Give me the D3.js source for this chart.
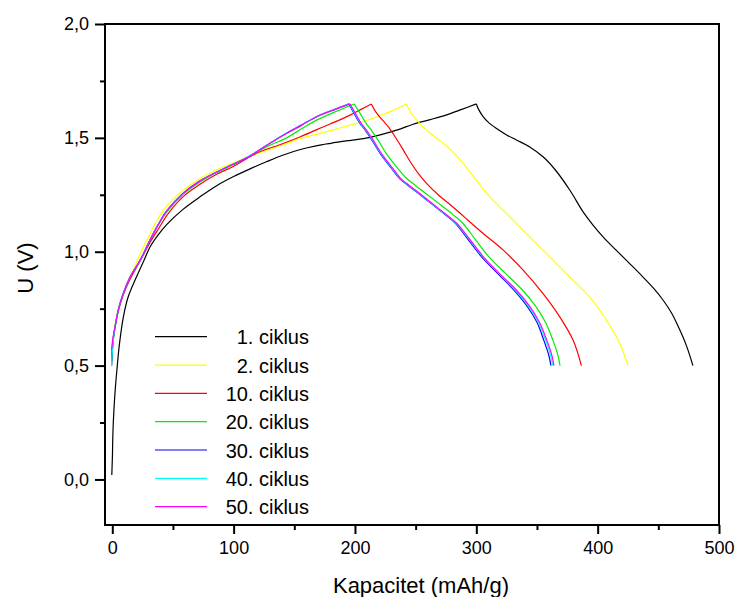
<!DOCTYPE html>
<html>
<head>
<meta charset="utf-8">
<script src="https://cdn.jsdelivr.net/npm/d3@7"></script>
<style>
  html, body { margin: 0; padding: 0; background: #fff; }
  svg { display: block; font-family: "Liberation Sans", Arial, sans-serif; }
</style>
</head>
<body>
<svg id="chart" width="737" height="597"></svg>
<script>
// ---------- DATA ----------
const seriesNames = ["1. ciklus", "2. ciklus", "10. ciklus", "20. ciklus", "30. ciklus", "40. ciklus", "50. ciklus"];
const seriesColors = ["#000000", "#ffff00", "#ff0000", "#00ee00", "#0000ff", "#00ffff", "#ff00ff"];

const xTicks = [0, 100, 200, 300, 400, 500];
const yTicks = [0.0, 0.5, 1.0, 1.5, 2.0];
const xLabel = "Kapacitet (mAh/g)";
const yLabel = "U (V)";

// charge branches [capacity, voltage]
const charge1 = [[-0.4,0.02],[0.1,0.1],[0.5,0.2],[1.3,0.3],[2.5,0.4],[3.8,0.48],[5.8,0.59],[9,0.71],[13,0.80],[20,0.89],[26,0.96],[31,1.02],[38,1.075],[45,1.12],[58,1.185],[72,1.24],[86,1.29],[100,1.33],[114,1.365],[127,1.395],[141,1.425],[155,1.449],[168,1.465],[180,1.476],[195,1.488],[207,1.497],[220,1.512],[235,1.535],[248,1.56],[262,1.58],[275,1.60],[288,1.625],[300,1.649]];
const charge2 = [[-0.5,0.5],[0,0.56],[1,0.62],[2.3,0.68],[4,0.73],[6,0.77],[8,0.80],[12,0.86],[17.4,0.92],[22,0.98],[28.4,1.05],[34,1.11],[39.4,1.16],[48,1.22],[58.6,1.27],[72,1.32],[86,1.36],[100,1.39],[113.5,1.42],[127,1.445],[141,1.47],[155,1.497],[168,1.515],[179,1.531],[196,1.556],[207,1.572],[220,1.596],[232,1.622],[242.4,1.649]];
const charge10 = [[-0.5,0.52],[0,0.58],[1,0.63],[2.3,0.67],[5,0.74],[9,0.81],[14.7,0.88],[23,0.96],[31,1.04],[38,1.1],[45,1.16],[58,1.24],[72,1.295],[86,1.34],[100,1.375],[111,1.41],[122,1.44],[138,1.47],[155,1.505],[168,1.535],[179,1.56],[196,1.6],[205,1.625],[213.5,1.649]];
const charge20 = [[-0.5,0.52],[0,0.58],[1,0.63],[2.3,0.67],[5,0.745],[9,0.816],[14.7,0.889],[23,0.963],[31,1.05],[38,1.12],[45,1.175],[58,1.25],[72,1.305],[86,1.348],[100,1.383],[110,1.41],[119,1.439],[131,1.47],[143.7,1.5],[156,1.54],[168.4,1.578],[184,1.615],[199.2,1.649]];
const charge30 = [[-0.5,0.5],[0,0.56],[1,0.62],[2.3,0.67],[5,0.745],[9,0.816],[14.7,0.889],[23,0.963],[31,1.05],[38,1.12],[45,1.18],[58,1.255],[72,1.31],[86,1.35],[100,1.385],[110,1.41],[119,1.439],[131,1.48],[143.7,1.52],[156,1.556],[168.4,1.593],[182,1.622],[195,1.649]];
const charge40 = [[-0.6,0.5],[0,0.56],[1,0.62],[2.3,0.67],[5,0.745],[9,0.816],[14.7,0.889],[23,0.963],[31,1.05],[38,1.12],[45,1.18],[58,1.255],[72,1.31],[86,1.35],[100,1.386],[110,1.412],[119,1.44],[131,1.481],[143.7,1.521],[156,1.557],[168.4,1.594],[182,1.623],[195.5,1.649]];
const charge50 = [[-0.5,0.57],[0,0.6],[1,0.635],[2.3,0.67],[5,0.745],[9,0.816],[14.7,0.889],[23,0.963],[31,1.05],[38,1.12],[45,1.18],[58,1.255],[72,1.31],[86,1.35],[100,1.385],[110,1.41],[119,1.439],[131,1.48],[143.7,1.52],[156,1.556],[168.4,1.593],[182,1.622],[196,1.649]];

// discharge branches [capacity, voltage]
const discharge1 = [[300,1.649],[302,1.624],[305,1.598],[310,1.568],[317,1.54],[325,1.513],[333,1.491],[344,1.46],[355,1.417],[365,1.36],[377,1.271],[388,1.175],[396,1.118],[405,1.062],[415,1.008],[426,0.95],[437,0.891],[446,0.84],[454,0.787],[461,0.73],[467,0.665],[473,0.59],[478.5,0.5]];
const discharge2 = [[242.4,1.649],[245,1.62],[249,1.59],[255,1.555],[262,1.52],[269,1.492],[276,1.462],[283,1.425],[290,1.382],[300,1.314],[311,1.242],[327.7,1.153],[344,1.065],[360.7,0.977],[377,0.889],[393.5,0.801],[407.3,0.699],[418.3,0.596],[425,0.5]];
const discharge10 = [[213.5,1.649],[217,1.615],[222,1.582],[228,1.545],[234,1.497],[240,1.445],[246,1.392],[252,1.345],[259,1.3],[269,1.248],[280,1.2],[290,1.153],[305.7,1.08],[322.2,1.007],[338.6,0.919],[355,0.816],[368.9,0.713],[379.8,0.611],[386.6,0.5]];
const discharge20 = [[199.2,1.649],[204,1.61],[209,1.565],[214,1.53],[219,1.49],[226,1.43],[234,1.374],[242,1.325],[250,1.29],[261,1.245],[272,1.2],[281,1.162],[289,1.124],[299,1.055],[310,0.98],[324,0.905],[338,0.832],[349,0.76],[357,0.69],[363,0.613],[367,0.55],[369,0.5]];
const discharge30 = [[195,1.649],[199,1.61],[204,1.565],[209,1.53],[214,1.49],[221,1.43],[229,1.374],[237,1.32],[244,1.29],[255,1.245],[266,1.198],[275,1.16],[283,1.124],[293,1.055],[304,0.98],[317.5,0.905],[331,0.832],[342,0.76],[350,0.69],[355.5,0.613],[359.5,0.55],[361.5,0.5]];
const discharge40 = [[195.5,1.649],[199.5,1.61],[204.5,1.565],[209.5,1.53],[214.5,1.49],[221.5,1.43],[229.5,1.374],[237.5,1.32],[244.5,1.29],[255.5,1.245],[266.5,1.198],[275.5,1.16],[283.5,1.124],[294,1.055],[305,0.98],[318.5,0.905],[332,0.832],[343,0.76],[351,0.69],[357,0.613],[361,0.55],[363,0.5]];
const discharge50 = [[196,1.649],[200,1.61],[205,1.565],[210,1.53],[215,1.49],[222,1.43],[230,1.374],[238,1.32],[245,1.29],[256,1.245],[267,1.198],[276,1.16],[284,1.124],[294.5,1.055],[305.5,0.98],[319,0.905],[333,0.832],[344,0.76],[352,0.69],[358,0.613],[362,0.55],[364,0.5]];

const chargeData = [charge1, charge2, charge10, charge20, charge30, charge40, charge50];
const dischargeData = [discharge1, discharge2, discharge10, discharge20, discharge30, discharge40, discharge50];

// ---------- LAYOUT ----------
const svg = d3.select("#chart");
const margin = {left: 105, top: 24, right: 18, bottom: 72};
const W = 737, H = 597;
const pw = W - margin.left - margin.right;   // 614
const ph = H - margin.top - margin.bottom;   // 501

const x = d3.scaleLinear().domain([-6, 500]).range([margin.left, margin.left + pw]);
const y = d3.scaleLinear().domain([-0.2, 2.0]).range([margin.top + ph, margin.top]);

const comma = d => d3.format(".1f")(d).replace(".", ",");

// clip
svg.append("defs").append("clipPath").attr("id", "clip")
  .append("rect").attr("x", margin.left).attr("y", margin.top).attr("width", pw).attr("height", ph);

// curves
const line = d3.line().x(d => x(d[0])).y(d => y(d[1])).curve(d3.curveCatmullRom.alpha(0.5));
const gLines = svg.append("g").attr("clip-path", "url(#clip)");
seriesNames.forEach((name, i) => {
  [chargeData[i], dischargeData[i]].forEach(seg => {
    gLines.append("path")
      .datum(seg)
      .attr("d", line)
      .attr("fill", "none")
      .attr("stroke", seriesColors[i])
      .attr("stroke-width", 1.2)
      .attr("stroke-linejoin", "round");
  });
});

// axes
const xAxis = d3.axisBottom(x).tickValues(xTicks).tickSize(9).tickPadding(7).tickFormat(d3.format("d"));
const xMinor = d3.axisBottom(x).tickValues([50, 150, 250, 350, 450]).tickSize(5).tickFormat("");
const yAxis = d3.axisLeft(y).tickValues(yTicks).tickSize(10).tickPadding(6).tickFormat(comma);
const yMinor = d3.axisLeft(y).tickValues([0.25, 0.75, 1.25, 1.75]).tickSize(5).tickFormat("");

function styleAxis(g) {
  g.select(".domain").remove();
  g.selectAll(".tick line").attr("stroke", "#000").attr("stroke-width", 2);
  g.selectAll(".tick text").attr("fill", "#000").style("font-size", "18px")
    .style("font-family", "'Liberation Sans', Arial, sans-serif");
}

svg.append("g").attr("transform", `translate(0,${margin.top + ph})`).call(xAxis).call(styleAxis);
svg.append("g").attr("transform", `translate(0,${margin.top + ph})`).call(xMinor).call(styleAxis);
svg.append("g").attr("transform", `translate(${margin.left},0)`).call(yAxis).call(styleAxis);
svg.append("g").attr("transform", `translate(${margin.left},0)`).call(yMinor).call(styleAxis);

// frame
svg.append("rect")
  .attr("x", margin.left).attr("y", margin.top)
  .attr("width", pw).attr("height", ph)
  .attr("fill", "none").attr("stroke", "#000").attr("stroke-width", 2);

// axis titles
svg.append("text")
  .attr("x", 421).attr("y", 593)
  .attr("text-anchor", "middle")
  .style("font-size", "22px").attr("fill", "#000")
  .text(xLabel);

svg.append("text")
  .attr("transform", `translate(33,268) rotate(-90)`)
  .attr("text-anchor", "middle")
  .style("font-size", "22px").attr("fill", "#000")
  .text(yLabel);

// legend
const legend = svg.append("g");
seriesNames.forEach((name, i) => {
  const ly = 336.7 + i * 28.33;
  legend.append("line")
    .attr("x1", 155).attr("x2", 207)
    .attr("y1", ly).attr("y2", ly)
    .attr("stroke", seriesColors[i]).attr("stroke-width", 1.2);
  legend.append("text")
    .attr("x", 309).attr("y", ly + 7.5)
    .attr("text-anchor", "end")
    .style("font-size", "20px").attr("fill", "#000")
    .text(name);
});
</script>
</body>
</html>
